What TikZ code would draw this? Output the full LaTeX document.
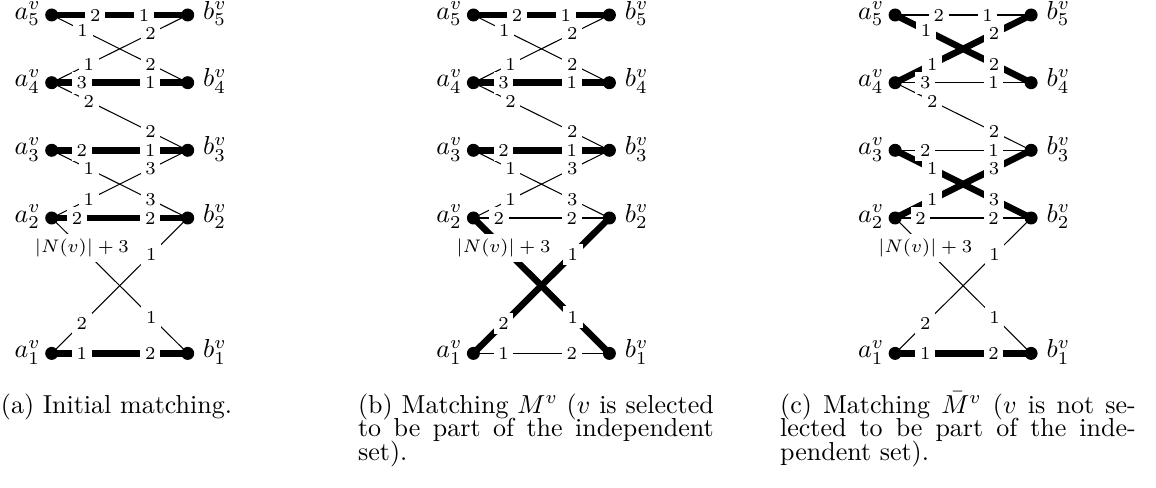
\documentclass[tikz,border=0pt]{standalone}
\pgfdeclarelayer{edges}
\pgfsetlayers{edges,main}
\newcommand\matchpanel[1]{%
  \foreach \i/\y in {5/15,4/82.7,3/150.3,2/218,1/353.4}{%
    \node[dot] (#1a\i) at (51.7,\y) {};
    \node[dot] (#1b\i) at (187.7,\y) {};
    \node[vlab,anchor=base east] (#1la\i) at (41.3,\y+4.3) {$a_{\i}^{v}$};
    \node[vlab,anchor=base west] (#1lb\i) at (202.7,\y+4.3) {$b_{\i}^{v}$};
  }
  \begin{pgfonlayer}{edges}
    \draw[h5] (#1a5.center) -- (#1b5.center);
    \draw[h4] (#1a4.center) -- (#1b4.center);
    \draw[h3] (#1a3.center) -- (#1b3.center);
    \draw[h2] (#1a2.center) -- (#1b2.center);
    \draw[h1] (#1a1.center) -- (#1b1.center);
    \draw[dfivefour] (#1a5.center) -- (#1b4.center);
    \draw[dfourfive] (#1a4.center) -- (#1b5.center);
    \draw[dfourthree] (#1a4.center) -- (#1b3.center);
    \draw[dthreetwo] (#1a3.center) -- (#1b2.center);
    \draw[dtwothree] (#1a2.center) -- (#1b3.center);
    \draw[dtwoone] (#1a2.center) -- (#1b1.center);
    \draw[donetwo] (#1a1.center) -- (#1b2.center);
  \end{pgfonlayer}
  % weights on the crossing edges first
  \path (#1a5) -- (#1b4) node[wt,pos=0.2] (#1x54a) {1} node[wt,pos=0.75] (#1x54b) {2};
  \path (#1a4) -- (#1b5) node[wt,pos=0.25] (#1x45a) {1} node[wt,pos=0.75] (#1x45b) {2};
  \path (#1a4) -- (#1b3) node[wt,pos=0.25] (#1x43a) {2} node[wt,pos=0.75] (#1x43b) {2};
  \path (#1a3) -- (#1b2) node[wt,pos=0.25] (#1x32a) {1} node[wt,pos=0.75] (#1x32b) {3};
  \path (#1a2) -- (#1b3) node[wt,pos=0.25] (#1x23a) {1} node[wt,pos=0.75] (#1x23b) {3};
  \path (#1a2) -- (#1b1) node[wt,pos=0.2] (#1x21a) {$|N(v)|+3$} node[wt,pos=0.75] (#1x21b) {1};
  \path (#1a1) -- (#1b2) node[wt,pos=0.2] (#1x12a) {2} node[wt,pos=0.75] (#1x12b) {1};
  % weights on the horizontal edges on top
  \path (#1a5) -- (#1b5) node[wt,pos=0.3] (#1w5a) {2} node[wt,pos=0.7] (#1w5b) {1};
  \path (#1a4) -- (#1b4) node[wt,pos=0.19] (#1w4a) {3} node[wt,pos=0.75] (#1w4b) {1};
  \path (#1a3) -- (#1b3) node[wt,pos=0.19] (#1w3a) {2} node[wt,pos=0.75] (#1w3b) {1};
  \path (#1a2) -- (#1b2) node[wt,pos=0.15] (#1w2a) {2} node[wt,pos=0.75] (#1w2b) {2};
  \path (#1a1) -- (#1b1) node[wt,pos=0.19] (#1w1a) {1} node[wt,pos=0.75] (#1w1b) {2};
}
\begin{document}
\begin{tikzpicture}[x=0.3846pt,y=-0.3846pt,
  dot/.style={circle,fill=black,inner sep=0pt,minimum size=5pt},
  tn/.style={line width=0.4pt},
  tk/.style={line width=2.5pt},
  wt/.style={fill=white,font=\scriptsize,inner sep=1.8pt},
  vlab/.style={inner sep=0pt},
  capline/.style={inner sep=0pt,anchor=base west}]
\useasboundingbox (0,0) rectangle (1156,488);
% panel (a)
\begin{scope}[h5/.style={tk},h4/.style={tk},h3/.style={tk},h2/.style={tk},h1/.style={tk},
  dfivefour/.style={tn},dfourfive/.style={tn},dfourthree/.style={tn},dthreetwo/.style={tn},
  dtwothree/.style={tn},dtwoone/.style={tn},donetwo/.style={tn}]
  \matchpanel{A}
\end{scope}
% panel (b)
\begin{scope}[shift={(421.7,0)},h5/.style={tk},h4/.style={tk},h3/.style={tk},h2/.style={tn},h1/.style={tn},
  dfivefour/.style={tn},dfourfive/.style={tn},dfourthree/.style={tn},dthreetwo/.style={tn},
  dtwothree/.style={tn},dtwoone/.style={tk},donetwo/.style={tk}]
  \matchpanel{B}
\end{scope}
% panel (c)
\begin{scope}[shift={(843.4,0)},h5/.style={tn},h4/.style={tn},h3/.style={tn},h2/.style={tn},h1/.style={tk},
  dfivefour/.style={tk},dfourfive/.style={tk},dfourthree/.style={tn},dthreetwo/.style={tk},
  dtwothree/.style={tk},dtwoone/.style={tn},donetwo/.style={tn}]
  \matchpanel{C}
\end{scope}
% captions
\node[capline] (capa) at (0.4,413) {(a) Initial matching.};
\node[capline] (capb1) at (357.6,413) {\hbox to 136.8pt{(b) Matching $M^v$ ($v$ is selected}};
\node[capline] (capb2) at (357.6,436.5) {\hbox to 136.8pt{to be part of the independent}};
\node[capline] (capb3) at (357.6,460) {set).};
\node[capline] (capc1) at (779.6,413) {\hbox to 136.8pt{(c) Matching $\bar{M}^v$ ($v$ is not se-}};
\node[capline] (capc2) at (779.6,436.5) {\hbox to 136.8pt{lected to be part of the inde-}};
\node[capline] (capc3) at (779.6,460) {pendent set).};
\end{tikzpicture}
\end{document}
